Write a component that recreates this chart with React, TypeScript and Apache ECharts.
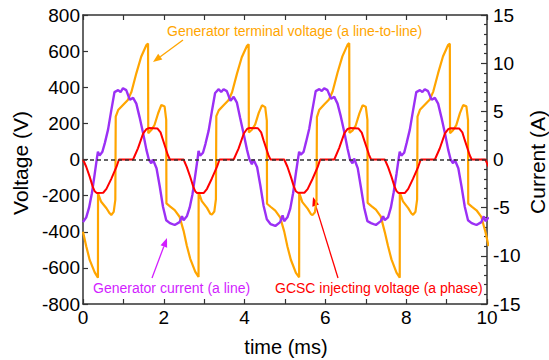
import React, { useEffect, useRef } from 'react';
import * as echarts from 'echarts';

// time (ms), voltage (V)
const terminalVoltage: [number, number][] = [
  [0, -400], [0.08, -480], [0.165, -556], [0.29, -625], [0.37, -655], [0.372, -187], [0.45, -234], [0.58, -270], [0.66, -298], [0.70, -307], [0.76, -290], [0.80, -224],
  [0.81, 237], [0.87, 274], [0.99, 302], [1.11, 330], [1.20, 375], [1.32, 477], [1.44, 569], [1.57, 634], [1.61, 642], [1.615, 145], [1.69, 163], [1.77, 191], [1.86, 256], [1.94, 302], [2.02, 293], [2.06, 219],
  [2.065, -243], [2.16, -261], [2.27, -280], [2.39, -317],
  [2.49, -395], [2.57, -478], [2.655, -550], [2.78, -622], [2.86, -650], [2.862, -180], [2.94, -230], [3.07, -268], [3.15, -300], [3.19, -305], [3.25, -288], [3.29, -220],
  [3.30, 240], [3.36, 272], [3.48, 300], [3.60, 328], [3.69, 372], [3.81, 474], [3.93, 566], [4.06, 630], [4.10, 638], [4.105, 150], [4.18, 165], [4.26, 193], [4.35, 258], [4.43, 300], [4.51, 290], [4.55, 215],
  [4.555, -245], [4.65, -263], [4.76, -283], [4.88, -320],
  [4.98, -398], [5.06, -482], [5.145, -555], [5.27, -628], [5.35, -652], [5.352, -185], [5.43, -236], [5.56, -272], [5.64, -302], [5.68, -308], [5.74, -292], [5.78, -226],
  [5.79, 235], [5.85, 276], [5.97, 305], [6.09, 332], [6.18, 378], [6.30, 480], [6.42, 571], [6.55, 636], [6.59, 644], [6.595, 148], [6.67, 160], [6.75, 188], [6.84, 254], [6.92, 300], [7.00, 292], [7.04, 220],
  [7.045, -240], [7.14, -258], [7.25, -278], [7.37, -315],
  [7.47, -402], [7.55, -479], [7.635, -553], [7.76, -626], [7.84, -654], [7.842, -184], [7.92, -232], [8.05, -269], [8.13, -299], [8.17, -306], [8.23, -289], [8.27, -222],
  [8.28, 238], [8.34, 275], [8.46, 303], [8.58, 331], [8.67, 376], [8.79, 478], [8.91, 570], [9.04, 635], [9.08, 641], [9.085, 146], [9.16, 162], [9.24, 190], [9.33, 257], [9.41, 301], [9.49, 294], [9.53, 218],
  [9.535, -244], [9.63, -262], [9.74, -281], [9.86, -318], [9.96, -400], [10.04, -480],
];

// time (ms), current (A)
const generatorCurrent: [number, number][] = [
  [0, -6.5], [0.08, -6.0], [0.15, -5.0], [0.22, -3.5], [0.29, -1.5], [0.35, 0.3], [0.37, 0.8], [0.41, 0.4], [0.48, 0.8], [0.54, 1.7], [0.62, 3.1], [0.70, 5.1], [0.78, 7.0], [0.87, 7.2], [0.93, 7.0], [0.99, 7.4], [1.07, 7.2], [1.16, 6.2], [1.24, 6.4], [1.32, 5.8], [1.40, 4.4], [1.49, 2.7], [1.57, 1.0], [1.63, 0], [1.69, -0.4], [1.73, 0], [1.82, -0.9], [1.90, -2.8], [1.98, -4.9], [2.06, -6.3], [2.15, -6.6], [2.27, -6.8], [2.39, -6.5], [2.45, -5.9],
  [2.49, -6.3], [2.57, -5.9], [2.64, -5.0], [2.71, -3.6], [2.78, -1.6], [2.84, 0.2], [2.86, 0.9], [2.90, 0.4], [2.97, 0.7], [3.03, 1.6], [3.11, 3.0], [3.19, 5.0], [3.27, 6.9], [3.36, 7.3], [3.42, 7.0], [3.48, 7.3], [3.56, 7.1], [3.65, 6.1], [3.73, 6.5], [3.81, 5.9], [3.89, 4.3], [3.98, 2.6], [4.06, 1.0], [4.12, 0], [4.18, -0.5], [4.22, 0], [4.31, -0.8], [4.39, -2.7], [4.47, -4.8], [4.55, -6.2], [4.64, -6.7], [4.76, -6.9], [4.88, -6.5], [4.94, -5.8],
  [4.98, -6.4], [5.06, -6.0], [5.13, -5.1], [5.20, -3.5], [5.27, -1.4], [5.33, 0.3], [5.35, 0.8], [5.39, 0.5], [5.46, 0.8], [5.52, 1.8], [5.60, 3.2], [5.68, 5.2], [5.76, 7.1], [5.85, 7.3], [5.91, 7.1], [5.97, 7.4], [6.05, 7.2], [6.14, 6.3], [6.22, 6.5], [6.30, 5.8], [6.38, 4.5], [6.47, 2.8], [6.55, 1.1], [6.61, 0], [6.67, -0.4], [6.71, 0.1], [6.80, -0.9], [6.88, -2.9], [6.96, -5.0], [7.04, -6.4], [7.13, -6.6], [7.25, -6.8], [7.37, -6.4], [7.43, -5.9],
  [7.47, -6.3], [7.55, -6.0], [7.62, -5.0], [7.69, -3.4], [7.76, -1.5], [7.82, 0.3], [7.84, 0.8], [7.88, 0.4], [7.95, 0.7], [8.01, 1.7], [8.09, 3.1], [8.17, 5.1], [8.25, 7.0], [8.34, 7.2], [8.40, 7.0], [8.46, 7.3], [8.54, 7.1], [8.63, 6.2], [8.71, 6.4], [8.79, 5.8], [8.87, 4.4], [8.96, 2.7], [9.04, 1.0], [9.10, 0], [9.16, -0.4], [9.20, 0], [9.29, -0.9], [9.37, -2.8], [9.45, -4.9], [9.53, -6.3], [9.62, -6.6], [9.74, -6.8], [9.86, -6.5], [9.92, -5.9],
  [9.96, -6.4], [10.04, -6.0],
];

// time (ms), voltage (V)
const gcscVoltage: [number, number][] = [
  [0, 0], [0.08, -40], [0.165, -95], [0.24, -150], [0.29, -176], [0.34, -185], [0.50, -184], [0.58, -163], [0.70, -107], [0.83, -40], [0.89, 0], [1.24, 0], [1.36, 62], [1.49, 145], [1.57, 168], [1.63, 174], [1.84, 172], [1.92, 150], [1.98, 108], [2.10, 25], [2.15, 0],
  [2.49, 0], [2.57, -42], [2.655, -97], [2.73, -151], [2.78, -177], [2.83, -186], [2.99, -185], [3.07, -162], [3.19, -105], [3.32, -38], [3.38, 0], [3.73, 0], [3.85, 60], [3.98, 144], [4.06, 169], [4.12, 175], [4.33, 173], [4.41, 150], [4.47, 106], [4.59, 24], [4.64, 0],
  [4.98, 0], [5.06, -40], [5.145, -96], [5.22, -150], [5.27, -176], [5.32, -184], [5.48, -184], [5.56, -164], [5.68, -108], [5.81, -41], [5.87, 0], [6.22, 0], [6.34, 63], [6.47, 146], [6.55, 169], [6.61, 174], [6.82, 171], [6.90, 149], [6.96, 107], [7.08, 26], [7.13, 0],
  [7.47, 0], [7.55, -41], [7.635, -95], [7.71, -149], [7.76, -175], [7.81, -185], [7.97, -185], [8.05, -163], [8.17, -106], [8.30, -39], [8.36, 0], [8.71, 0], [8.83, 61], [8.96, 145], [9.04, 168], [9.10, 173], [9.31, 172], [9.39, 150], [9.45, 107], [9.57, 25], [9.62, 0],
  [9.96, 0], [10.04, -40],
];

const FONT = '"Liberation Sans", Arial, Helvetica, sans-serif';
const AXIS = '#333';
const ORANGE = '#FFA500';
const PURPLE = '#9B30F5';
const MAGENTA = '#D21EFF';
const RED = '#FF0000';

function arrow(x0: number, y0: number, x1: number, y1: number, color: string) {
  const dx = x1 - x0, dy = y1 - y0;
  const L = Math.hypot(dx, dy);
  const ux = dx / L, uy = dy / L;
  const hl = 9, hw = 3.5;
  const bx = x1 - ux * hl, by = y1 - uy * hl;
  return [
    { type: 'line', shape: { x1: x0, y1: y0, x2: bx, y2: by }, style: { stroke: color, lineWidth: 1.3 } },
    {
      type: 'polygon',
      shape: { points: [[x1, y1], [bx - uy * hw, by + ux * hw], [bx + uy * hw, by - ux * hw]] },
      style: { fill: color },
    },
  ];
}

function label(text: string, x: number, y: number, color: string, size = 14, extra: any = {}) {
  return {
    type: 'text',
    x,
    y,
    ...extra,
    style: {
      text,
      fill: color,
      fontSize: size,
      fontFamily: FONT,
      textAlign: extra.center ? 'center' : 'left',
      align: extra.center ? 'center' : 'left',
      textVerticalAlign: 'middle',
      verticalAlign: 'middle',
    },
  };
}

export default function App() {
  const ref = useRef<HTMLDivElement>(null);
  useEffect(() => {
    const chart = echarts.init(ref.current!, null, { renderer: 'svg' });
    const tickStyle = { color: AXIS, width: 1.2 };
    const option: any = {
      animation: false,
      backgroundColor: '#fff',
      grid: { left: 83, right: 62, top: 15, bottom: 56, containLabel: false },
      xAxis: [
        {
          type: 'value', min: 0, max: 10, interval: 2,
          axisLine: { show: true, onZero: false, lineStyle: { color: AXIS, width: 1.5 } },
          axisTick: { show: true, inside: true, length: 5, lineStyle: tickStyle },
          minorTick: { show: true, splitNumber: 2, length: 5, lineStyle: tickStyle },
          axisLabel: { color: '#000', fontSize: 19, fontFamily: FONT, margin: 4 },
          splitLine: { show: false },
        },
        {
          type: 'value', min: 0, max: 10, interval: 2, position: 'top',
          axisLine: { show: true, onZero: false, lineStyle: { color: AXIS, width: 1.5 } },
          axisTick: { show: true, inside: true, length: 5, lineStyle: tickStyle },
          minorTick: { show: true, splitNumber: 2, length: 5, lineStyle: tickStyle },
          axisLabel: { show: false },
          splitLine: { show: false },
        },
      ],
      yAxis: [
        {
          type: 'value', min: -800, max: 800, interval: 200,
          axisLine: { show: true, onZero: false, lineStyle: { color: AXIS, width: 1.5 } },
          axisTick: { show: true, inside: true, length: 5, lineStyle: tickStyle },
          axisLabel: { color: '#000', fontSize: 19, fontFamily: FONT, margin: 3 },
          splitLine: { show: false },
        },
        {
          type: 'value', min: -15, max: 15, interval: 5, position: 'right',
          axisLine: { show: true, onZero: false, lineStyle: { color: AXIS, width: 1.5 } },
          axisTick: { show: true, inside: true, length: 6, lineStyle: tickStyle },
          minorTick: { show: true, splitNumber: 5, length: 3, lineStyle: tickStyle },
          axisLabel: { color: '#000', fontSize: 19, fontFamily: FONT, margin: 6 },
          splitLine: { show: false },
        },
      ],
      series: [
        {
          name: 'Generator terminal voltage', type: 'line', xAxisIndex: 0, yAxisIndex: 0,
          data: terminalVoltage, showSymbol: false, symbol: 'none', clip: true,
          lineStyle: { color: ORANGE, width: 2.2 }, z: 2,
        },
        {
          name: 'Generator current', type: 'line', xAxisIndex: 0, yAxisIndex: 1,
          data: generatorCurrent, showSymbol: false, symbol: 'none', clip: true,
          lineStyle: { color: PURPLE, width: 2.4 }, z: 3,
        },
        {
          name: 'GCSC injecting voltage', type: 'line', xAxisIndex: 0, yAxisIndex: 0,
          data: gcscVoltage, showSymbol: false, symbol: 'none', clip: true,
          lineStyle: { color: RED, width: 2 }, z: 4,
          markLine: {
            silent: true, symbol: 'none', label: { show: false },
            lineStyle: { color: '#333', type: [4, 3], width: 1.5 },
            data: [{ yAxis: 0 }],
          },
        },
      ],
      graphic: [
        label('Generator terminal voltage (a line-to-line)', 167, 31, ORANGE),
        ...arrow(183, 40, 153, 62, ORANGE),
        label('Generator current (a line)', 93, 288, MAGENTA),
        ...arrow(152, 278, 167, 238, MAGENTA),
        label('GCSC injecting voltage (a phase)', 275, 288, RED),
        ...arrow(338, 278, 313, 197, RED),
        label('Voltage (V)', 20, 163, '#000', 21, { rotation: Math.PI / 2, center: true }),
        label('Current (A)', 537, 162, '#000', 21, { rotation: Math.PI / 2, center: true }),
        label('time (ms)', 286, 347, '#000', 20, { center: true }),
      ],
    };
    chart.setOption(option);
    return () => chart.dispose();
  }, []);
  return <div ref={ref} style={{ position: 'fixed', left: 0, top: 0, width: 549, height: 360 }} />;
}
